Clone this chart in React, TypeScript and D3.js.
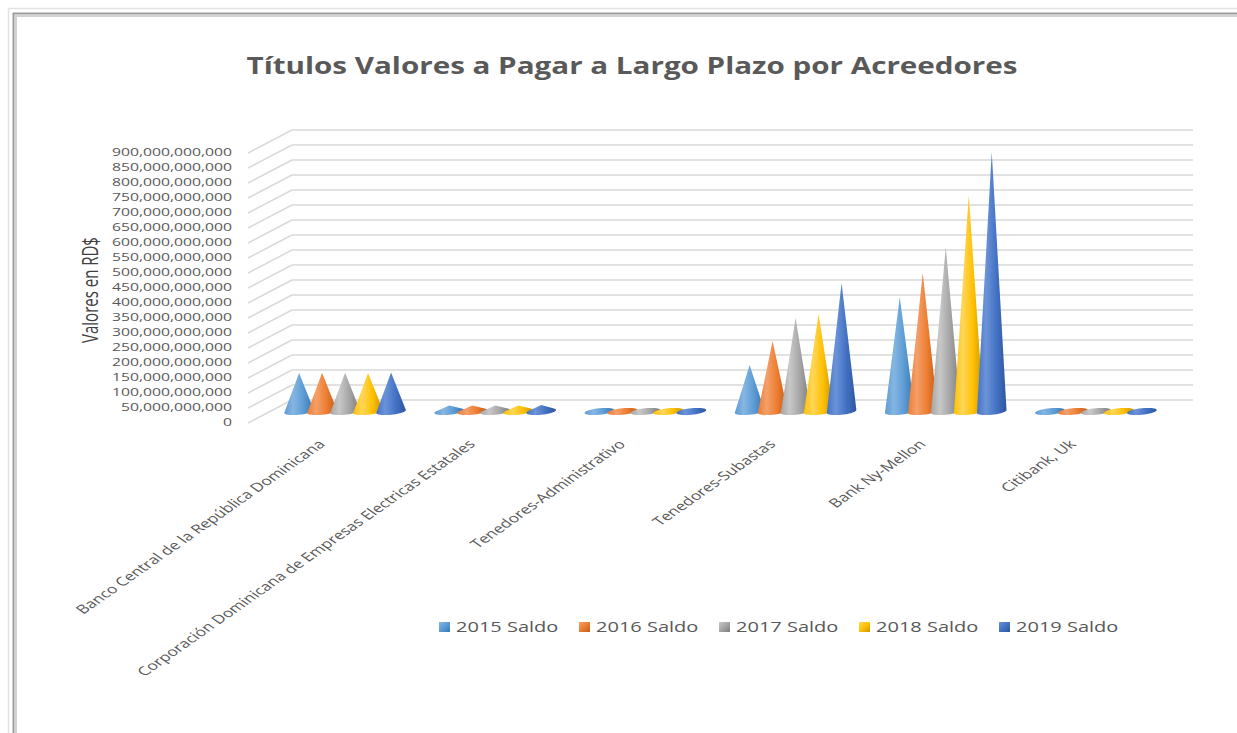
import React from "react";
import * as d3 from "d3";

const categories = [
  "Banco Central de la República Dominicana",
  "Corporación Dominicana de Empresas Electricas Estatales",
  "Tenedores-Administrativo",
  "Tenedores-Subastas",
  "Bank Ny-Mellon",
  "Citibank, Uk",
];
const seriesNames = ["2015 Saldo", "2016 Saldo", "2017 Saldo", "2018 Saldo", "2019 Saldo"];
const saldo2015 = [128e9, 20e9, 2e9, 155e9, 382e9, 2e9];
const saldo2016 = [129e9, 20e9, 2e9, 235e9, 462e9, 2e9];
const saldo2017 = [129e9, 20e9, 2e9, 312e9, 548e9, 2e9];
const saldo2018 = [128e9, 20e9, 2e9, 325e9, 722e9, 2e9];
const saldo2019 = [130e9, 22e9, 2e9, 428e9, 865e9, 2e9];
const seriesValues = [saldo2015, saldo2016, saldo2017, saldo2018, saldo2019];
const yTickValues = [
  0, 50e9, 100e9, 150e9, 200e9, 250e9, 300e9, 350e9, 400e9, 450e9, 500e9, 550e9, 600e9,
  650e9, 700e9, 750e9, 800e9, 850e9, 900e9,
];
const seriesColors = ["#5B9BD5", "#ED7D31", "#A5A5A5", "#FFC000", "#4472C4"];
const seriesLight = ["#86b6e2", "#f4a06a", "#c8c8c8", "#ffd659", "#6b93d8"];
const seriesDark = ["#3a74ab", "#bf5b18", "#7a7a7a", "#c79500", "#2d569e"];

const title = "Títulos Valores a Pagar a Largo Plazo por Acreedores";
const yAxisTitle = "Valores en RD$";

export default function App() {
  const W = 1237;
  const H = 733;
  const FRONT_X0 = 248;
  const FRONT_X1 = 1149;
  const FLOOR_Y = 423;
  const DDX = 44;
  const DDY = -23;
  const PLOT_H = 270;
  const SX = 1.43;
  const textColor = "#595959";

  const y = d3.scaleLinear().domain([0, 900e9]).range([0, PLOT_H]);
  const x = d3.scaleBand<string>().domain(categories).range([FRONT_X0, FRONT_X1]).paddingInner(0);
  const xs = d3.scaleBand<string>().domain(seriesNames).range([-57.5, 57.5]);
  const fmt = d3.format(",");

  const depth = 0.5;
  const R = 13.5;
  const BX = 6;
  const BY = -3.6;

  const cones: { d: string; i: number; key: string }[] = [];
  categories.forEach((c, ci) => {
    seriesNames.forEach((s, si) => {
      const v = seriesValues[si][ci];
      const cx = (x(c) as number) + x.bandwidth() / 2 + (xs(s) as number) + xs.bandwidth() / 2 + DDX * depth;
      const cy = FLOOR_Y + DDY * depth;
      const pts: [number, number][] = [];
      for (let k = 0; k < 120; k++) {
        const t = (k / 120) * Math.PI * 2;
        pts.push([cx + R * Math.cos(t) + BX * Math.sin(t), cy + BY * Math.sin(t)]);
      }
      pts.push([cx, cy - y(v)]);
      const hull = d3.polygonHull(pts) as [number, number][];
      const d = "M" + hull.map((p) => p[0].toFixed(2) + "," + p[1].toFixed(2)).join("L") + "Z";
      cones.push({ d, i: si, key: c + s });
    });
  });

  return (
    <div style={{ position: "absolute", left: 0, top: 0 }}>
      <svg width={W} height={H} style={{ display: "block", background: "#ffffff" }}>
        <defs>
          {seriesColors.map((col, i) => (
            <linearGradient key={i} id={"cone" + i} x1="0" x2="1" y1="0" y2="0">
              <stop offset="0" stopColor={col} />
              <stop offset="0.3" stopColor={seriesLight[i]} />
              <stop offset="0.65" stopColor={col} />
              <stop offset="1" stopColor={seriesDark[i]} />
            </linearGradient>
          ))}
          {seriesColors.map((col, i) => (
            <linearGradient key={"l" + i} id={"leg" + i} x1="0" x2="1" y1="0" y2="1">
              <stop offset="0" stopColor={seriesLight[i]} />
              <stop offset="0.5" stopColor={col} />
              <stop offset="1" stopColor={seriesDark[i]} />
            </linearGradient>
          ))}
        </defs>

        {/* frame */}
        <line x1={8} y1={8.5} x2={W} y2={8.5} stroke="#e2e2e2" strokeWidth={1.5} />
        <line x1={8.5} y1={8} x2={8.5} y2={H} stroke="#e2e2e2" strokeWidth={1.5} />
        <line x1={13} y1={13.5} x2={W} y2={13.5} stroke="#9c9c9c" strokeWidth={2} />
        <line x1={13.5} y1={13} x2={13.5} y2={H} stroke="#9c9c9c" strokeWidth={2} />
        <line x1={15} y1={16} x2={W} y2={16} stroke="#d2d2d2" strokeWidth={2} />
        <line x1={16} y1={15} x2={16} y2={H} stroke="#d2d2d2" strokeWidth={2} />

        {/* title */}
        <text
          x={632}
          y={74}
          textAnchor="middle"
          fontFamily="'Open Sans', sans-serif"
          fontWeight="bold"
          fontSize={24}
          fill={textColor}
          textLength={771}
          lengthAdjust="spacingAndGlyphs"
        >
          {title}
        </text>

        {/* gridlines */}
        {yTickValues.map((t) => (
          <g key={"g" + t}>
            <line
              x1={FRONT_X0}
              y1={FLOOR_Y - y(t)}
              x2={FRONT_X0 + DDX}
              y2={FLOOR_Y - y(t) + DDY}
              stroke="#d9d9d9"
              strokeWidth={1.5}
            />
            <line
              x1={FRONT_X0 + DDX}
              y1={FLOOR_Y - y(t) + DDY}
              x2={FRONT_X1 + DDX}
              y2={FLOOR_Y - y(t) + DDY}
              stroke="#d9d9d9"
              strokeWidth={1.5}
            />
          </g>
        ))}

        {/* y tick labels */}
        {yTickValues.map((t) => (
          <text
            key={"t" + t}
            transform={`translate(232,${FLOOR_Y - y(t)}) scale(${SX},1)`}
            textAnchor="end"
            dominantBaseline="middle"
            fontFamily="'Open Sans', sans-serif"
            fontSize={11}
            fill={textColor}
          >
            {fmt(t)}
          </text>
        ))}

        {/* y axis title */}
        <text
          transform={`translate(92,290) scale(${SX},1) rotate(-90)`}
          textAnchor="middle"
          dominantBaseline="middle"
          fontFamily="'Open Sans', sans-serif"
          fontSize={15}
          fill="#404040"
        >
          {yAxisTitle}
        </text>

        {/* cones */}
        {cones.map((c) => (
          <path key={c.key} d={c.d} fill={`url(#cone${c.i})`} />
        ))}

        {/* category labels */}
        {categories.map((c) => (
          <text
            key={"c" + c}
            transform={`translate(${(x(c) as number) + x.bandwidth() / 2 + 3},${445}) scale(${SX},1) rotate(-45)`}
            textAnchor="end"
            fontFamily="'Open Sans', sans-serif"
            fontSize={12.2}
            fill={textColor}
          >
            {c}
          </text>
        ))}

        {/* legend */}
        {seriesNames.map((s, i) => (
          <g key={"lg" + s} transform={`translate(${439 + i * 140},0)`}>
            <rect x={0} y={622} width={11} height={10} fill={`url(#leg${i})`} />
            <text
              transform={`translate(17,632) scale(${SX},1)`}
              fontFamily="'Open Sans', sans-serif"
              fontSize={14}
              fill={textColor}
            >
              {s}
            </text>
          </g>
        ))}
      </svg>
    </div>
  );
}
